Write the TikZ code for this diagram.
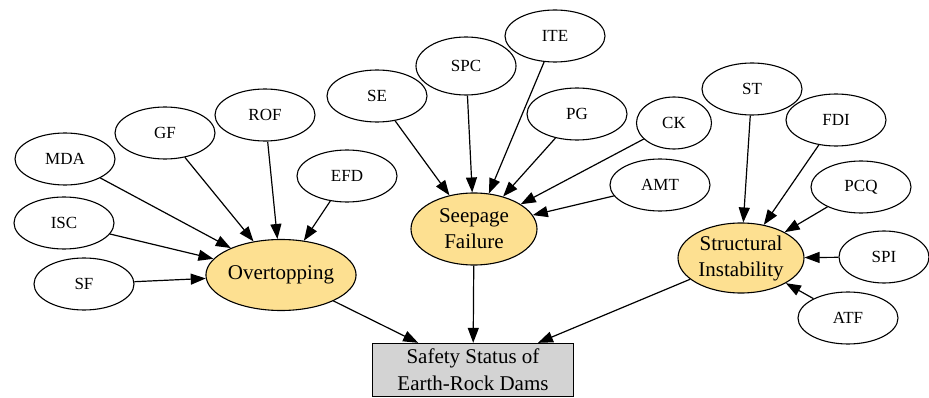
\documentclass[tikz,border=0pt]{standalone}
\usepackage{fontspec}
\setmainfont{Liberation Serif}
\usetikzlibrary{shapes.geometric, arrows.meta}
\definecolor{modeyellow}{RGB}{253,224,145}
\definecolor{statusgray}{RGB}{211,211,211}

\begin{document}
\begin{tikzpicture}[
    x=1pt, y=-1pt,
    factor/.style={ellipse, draw, inner sep=0pt, minimum width=100pt, minimum height=52pt, line width=1.1pt, font=\fontsize{17}{20}\selectfont},
    mode/.style={ellipse, draw, fill=modeyellow, inner sep=0pt, align=center, minimum width=126pt, minimum height=71pt, line width=1.1pt, font=\fontsize{21}{26}\selectfont},
    status/.style={rectangle, draw, fill=statusgray, align=center, minimum width=201pt, minimum height=53pt, line width=1.3pt, font=\fontsize{21}{27}\selectfont},
    arrow/.style={-{Triangle[length=15pt, width=11pt]}, line width=1.2pt}
]
    \useasboundingbox (0,0) rectangle (929,398);

    % Failure modes
    \node[mode, minimum width=144pt] (overtop) at (281,275) {Overtopping};
    \node[mode, minimum height=72pt] (seepage) at (474,229) {Seepage\\Failure};
    \node[mode, minimum height=70pt] (struct) at (741,258) {Structural\\Instability};

    % Target
    \node[status] (safety) at (473,370) {Safety Status of\\Earth-Rock Dams};

    % Overtopping factors
    \node[factor] (mda) at (65,159) {MDA};
    \node[factor] (gf) at (165,133) {GF};
    \node[factor] (rof) at (265,115) {ROF};
    \node[factor] (efd) at (347,176) {EFD};
    \node[factor] (isc) at (64,223) {ISC};
    \node[factor] (sf) at (84,284) {SF};

    % Seepage factors
    \node[factor] (se) at (377,96) {SE};
    \node[factor, minimum height=58pt] (spc) at (466,66) {SPC};
    \node[factor] (ite) at (555,36) {ITE};
    \node[factor] (pg) at (577,114) {PG};
    \node[factor, minimum width=75pt] (ck) at (674,123) {CK};
    \node[factor] (amt) at (660,185) {AMT};

    % Structural factors
    \node[factor] (st) at (752,89) {ST};
    \node[factor] (fdi) at (836,120) {FDI};
    \node[factor] (pcq) at (861,187) {PCQ};
    \node[factor, minimum width=90pt] (spi) at (884,257) {SPI};
    \node[factor] (atf) at (848,318) {ATF};

    % Connections
    \foreach \src in {mda, gf, rof, efd, isc, sf}
        \draw[arrow] (\src) -- (overtop);
    \foreach \src in {se, spc, ite, pg, ck, amt}
        \draw[arrow] (\src) -- (seepage);
    \foreach \src in {st, fdi, pcq, spi, atf}
        \draw[arrow] (\src) -- (struct);
    \foreach \src in {overtop, seepage, struct}
        \draw[arrow] (\src) -- (safety);
\end{tikzpicture}
\end{document}
